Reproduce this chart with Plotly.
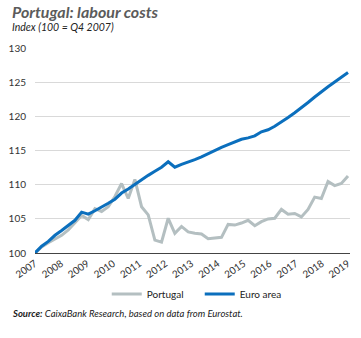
import plotly.graph_objects as go
import numpy as np

# Quarterly index values, Q4 2007 = 100
portugal = [100.0, 100.9, 101.5, 102.0, 102.6, 103.4, 104.4, 105.5, 104.9, 106.5,
            106.1, 106.8, 108.3, 110.2, 108.0, 110.8, 106.8, 105.6, 101.9, 101.6,
            105.1, 102.9, 103.9, 103.1, 102.9, 102.8, 102.1, 102.2, 102.3, 104.2,
            104.1, 104.4, 104.8, 104.0, 104.6, 105.0, 105.1, 106.4, 105.7, 105.8,
            105.3, 106.4, 108.2, 108.0, 110.5, 109.9, 110.2, 111.3]
euro_area = [100.0, 101.0, 101.7, 102.6, 103.3, 104.0, 104.8, 106.0, 105.7, 106.2,
             106.7, 107.3, 107.9, 108.8, 109.4, 110.1, 110.8, 111.4, 112.0, 112.6,
             113.4, 112.6, 113.0, 113.3, 113.7, 114.1, 114.6, 115.1, 115.5, 115.9,
             116.3, 116.7, 116.9, 117.2, 117.8, 118.1, 118.6, 119.2, 119.9, 120.6,
             121.3, 122.1, 122.9, 123.7, 124.4, 125.1, 125.8, 126.5]
year_labels = ["2007", "2008", "2009", "2010", "2011", "2012", "2013",
               "2014", "2015", "2016", "2017", "2018", "2019"]
y_ticks = [100, 105, 110, 115, 120, 125, 130]

quarters = list(range(len(portugal)))
tick_pos = [float(v) for v in np.linspace(0, len(portugal) - 1, len(year_labels))]

FONT = "Lato"
NARROW = "Liberation Sans Narrow, Lato"
GREY = "#b4bfc1"
BLUE = "#0b6fbd"

fig = go.Figure()
fig.add_trace(go.Scatter(x=quarters, y=portugal, mode="lines", name="Portugal",
                         line=dict(color=GREY, width=3)))
fig.add_trace(go.Scatter(x=quarters, y=euro_area, mode="lines", name="Euro area",
                         line=dict(color=BLUE, width=3)))

annotations = [
    dict(text="<b><i>Portugal: labour costs</i></b>", xref="paper", yref="paper",
         x=-0.078, y=1.178, xanchor="left", yanchor="middle", showarrow=False,
         font=dict(family=FONT, size=16, color="#5b5b5b")),
    dict(text="<i>Index (100 = Q4 2007)</i>", xref="paper", yref="paper",
         x=-0.078, y=1.1, xanchor="left", yanchor="middle", showarrow=False,
         font=dict(family=FONT, size=10.5, color="#222222")),
    dict(text="<b><i>Source:</i></b><i> CaixaBank Research, based on data from Eurostat.</i>",
         xref="paper", yref="paper", x=-0.078, y=-0.293, xanchor="left",
         yanchor="middle", showarrow=False,
         font=dict(family=NARROW, size=9.5, color="#222222")),
]

fig.update_layout(
    width=361, height=338,
    margin=dict(l=28, r=9, t=48, b=85),
    paper_bgcolor="white", plot_bgcolor="white",
    font=dict(family=FONT, size=10, color="#333333"),
    showlegend=True,
    legend=dict(orientation="h", x=0.523, xanchor="center", y=-0.2, yanchor="middle",
                font=dict(family=FONT, size=10, color="#222222"), itemwidth=30,
                entrywidth=48, entrywidthmode="pixels",
                bgcolor="rgba(0,0,0,0)"),
    yaxis=dict(range=[100, 130.1], tickmode="array", tickvals=y_ticks, showgrid=True,
               gridcolor="#d9d9d9", gridwidth=1, zeroline=False, showline=False,
               ticks="", ticklabelstandoff=8, tickfont=dict(size=10, color="#333333")),
    xaxis=dict(range=[0, len(portugal) - 1 + 0.3], tickmode="array", tickvals=tick_pos,
               ticktext=year_labels, tickangle=-35, showgrid=False, zeroline=False,
               showline=True, linecolor="#444444", linewidth=1, ticks="",
               tickfont=dict(family=FONT, size=10, color="#333333")),
    annotations=annotations,
)

fig.write_html("out.html")
